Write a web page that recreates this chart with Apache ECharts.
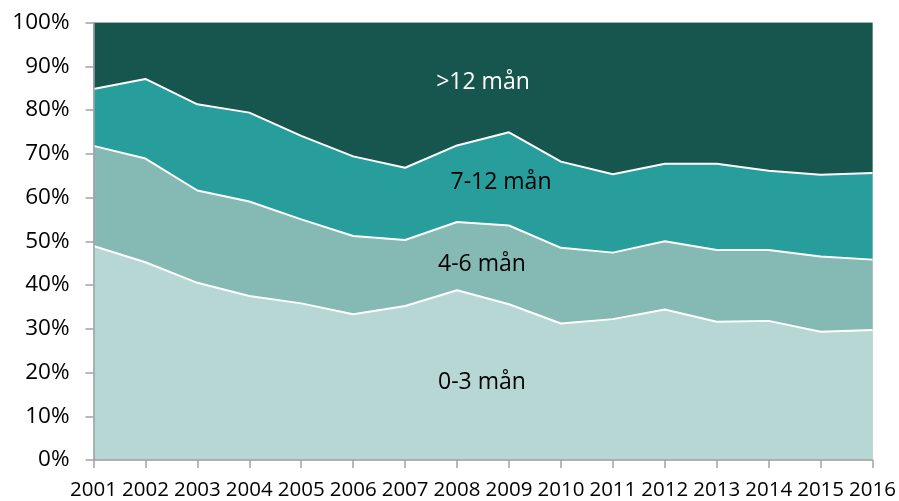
<!DOCTYPE html>
<html>
<head>
<meta charset="utf-8">
<script src="https://cdn.jsdelivr.net/npm/echarts@6/dist/echarts.min.js"></script>
<style>html,body{margin:0;padding:0;background:#fff;}#c{width:899px;height:501px;}</style>
</head>
<body>
<div id="c"></div>
<script>
const years = ['2001','2002','2003','2004','2005','2006','2007','2008','2009','2010','2011','2012','2013','2014','2015','2016'];
const seriesNames = ['0-3 mån','4-6 mån','7-12 mån','>12 mån'];
const m0_3  = [48.9,45.2,40.5,37.5,35.8,33.3,35.2,38.8,35.6,31.2,32.2,34.4,31.6,31.8,29.3,29.7];
const m4_6  = [22.9,23.7,21.1,21.6,19.2,17.9,15.1,15.6,18.0,17.3,15.2,15.6,16.4,16.2,17.2,16.1];
const m7_12 = [13.0,18.2,19.7,20.3,19.1,18.2,16.5,17.5,21.3,19.7,17.9,17.7,19.7,18.1,18.7,19.8];
const m12p  = [15.2,12.9,18.7,20.6,25.9,30.6,33.2,28.1,25.1,31.8,34.7,32.3,32.3,33.9,34.8,34.4];
const yTicks = [0,10,20,30,40,50,60,70,80,90,100];

const colors = ['#b7d7d4','#85b9b3','#279e9c','#17554f'];
const dataSets = [m0_3, m4_6, m7_12, m12p];
const font = '"Open Sans", sans-serif';

const chart = echarts.init(document.getElementById('c'));
chart.setOption({
  animation: false,
  grid: { left: 93.5, right: 25.5, top: 22.5, bottom: 40, show: true, borderColor: '#d4d4d4', borderWidth: 1 },
  xAxis: {
    type: 'category', data: years, boundaryGap: false,
    axisLine: { lineStyle: { color: '#a3a3a3', width: 1.5 } },
    axisTick: { show: true, length: 8, interval: 0, lineStyle: { color: '#a3a3a3', width: 1.5 } },
    axisLabel: { interval: 0, color: '#000', fontFamily: font, fontSize: 20.5, margin: 20 },
    splitLine: { show: false }, z: 10
  },
  yAxis: {
    type: 'value', min: yTicks[0], max: yTicks[yTicks.length-1], interval: 10,
    axisLine: { show: true, lineStyle: { color: '#a3a3a3', width: 1.5 } },
    axisTick: { show: true, length: 8, lineStyle: { color: '#a3a3a3', width: 1.5 } },
    axisLabel: { color: '#000', fontFamily: font, fontSize: 22.5, margin: 24, formatter: '{value}%' },
    splitLine: { show: false }, z: 10
  },
  series: dataSets.map((d, i) => ({
    name: seriesNames[i], type: 'line', stack: 'total', data: d,
    symbol: 'none', smooth: false,
    lineStyle: { color: '#fff', width: i === 3 ? 0 : 2 },
    areaStyle: { color: colors[i], opacity: 1 },
    z: 2 + (3 - i)
  })),
  graphic: [
    { type: 'text', x: 483, y: 82, z: 100, style: { text: seriesNames[3], fill: '#fff', font: '23px ' + font, textAlign: 'center', textVerticalAlign: 'middle' } },
    { type: 'text', x: 501, y: 182, z: 100, style: { text: seriesNames[2], fill: '#000', font: '23px ' + font, textAlign: 'center', textVerticalAlign: 'middle' } },
    { type: 'text', x: 482, y: 264, z: 100, style: { text: seriesNames[1], fill: '#000', font: '23px ' + font, textAlign: 'center', textVerticalAlign: 'middle' } },
    { type: 'text', x: 482, y: 382, z: 100, style: { text: seriesNames[0], fill: '#000', font: '23px ' + font, textAlign: 'center', textVerticalAlign: 'middle' } }
  ]
});
</script>
</body>
</html>
